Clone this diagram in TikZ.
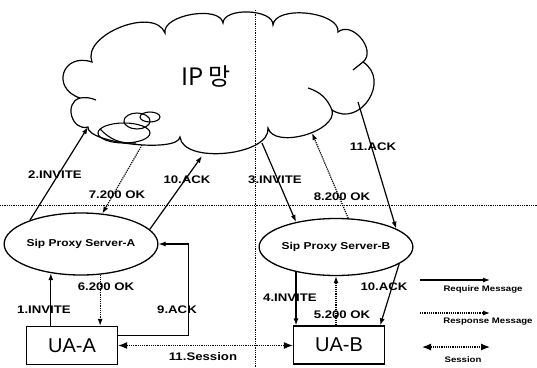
\documentclass[tikz,border=0pt]{standalone}
\usepackage{fontspec}
\setmainfont{Liberation Sans}
\newfontfamily\lblfont[FakeStretch=1.2]{Liberation Sans}
\newfontfamily\krfont{Noto Sans CJK KR}
\usepackage{tikz}
\usetikzlibrary{shapes.geometric,positioning}
\usetikzlibrary{arrows,arrows.meta}

\begin{document}
\begin{tikzpicture}[x=1pt,y=-1pt]
\tikzstyle{server}=[ellipse, draw=black, line width=1.3pt, minimum width=142pt, minimum height=62pt, inner sep=0pt, font=\lblfont\bfseries\fontsize{10}{12}\selectfont]
\tikzstyle{ua}=[rectangle, draw=black, line width=1.3pt, minimum width=91pt, minimum height=38pt, font=\fontsize{20}{24}\selectfont]
\tikzstyle{req}=[-{Latex[length=7pt,width=5pt]}, line width=1.2pt]
\tikzstyle{resp}=[-{Latex[length=7pt,width=5pt]}, line width=1.2pt, densely dotted]
\tikzstyle{session}=[{Latex[length=9pt,width=7pt]}-{Latex[length=9pt,width=7pt]}, line width=1.2pt, densely dotted]
\tikzstyle{lbl}=[font=\lblfont\bfseries\fontsize{11}{13}\selectfont, inner sep=0pt]
\tikzstyle{key}=[font=\lblfont\bfseries\fontsize{8}{10}\selectfont, inner sep=0pt]
\tikzstyle{grid}=[densely dotted, line width=0.8pt]
\tikzstyle{puff}=[bend left=90]
\useasboundingbox (0,0) rectangle (537,367);

\draw[line width=1.2pt] (80,98) to[puff, looseness=2.1] (92,62)
  to[puff, looseness=0.95] (165,33) to[puff, looseness=0.8] (223,23)
  to[puff, looseness=0.82] (273,25) to[puff, looseness=0.8] (338,32)
  to[puff, looseness=1.2] (363,62) to[puff, looseness=1.5] (332,110)
  to[puff, looseness=0.86] (268,128) to[puff, looseness=0.8] (180,137)
  to[puff, looseness=0.45] (88,127) to[puff, looseness=1.45] (80,98);
\draw[line width=1.2pt] (80,98) to[bend left=15] (96,100);
\draw[line width=1.2pt] (332,110) to[bend right=25] (308,88);
\draw[line width=1.2pt] (363,62) -- (353,70);
\draw[line width=1.1pt] (124,133) ellipse [x radius=26pt, y radius=10pt];
\draw[line width=1.1pt] (100,129) to[bend right=25] (136,143);
\draw[line width=1.1pt] (137,121) ellipse [x radius=13pt, y radius=8pt];
\draw[line width=1.1pt] (150,117) ellipse [x radius=10pt, y radius=5pt];
\node[font=\krfont\fontsize{24}{28}\selectfont] (net) at (206,76) {IP 망};

\draw[grid] (0,205) -- (537,205);
\draw[grid] (255,10) -- (255,367);

\node[server] (srvA) at (81,244) {Sip Proxy Server-A};
\node[server, minimum height=57pt] (srvB) at (336,247) {Sip Proxy Server-B};
\node[ua] (uaA) at (72,345.5) {UA-A};
\node[ua] (uaB) at (339,345) {UA-B};

\coordinate (c2) at (88,127);
\coordinate (c7) at (142,145);
\coordinate (c10) at (202,156);
\coordinate (c3) at (262,143);
\coordinate (c8) at (312,133);
\coordinate (c11) at (358,102);

\path (srvA.155) edge[req] (c2);
\path (c7) edge[resp] (srvA.55);
\path (srvA.12) edge[req] (c10);
\path (c3) edge[req] (srvB.148);
\path (srvB.67) edge[resp] (c8);
\path (c11) edge[req] (srvB.17);

\path (srvA.224 |- uaA.north) edge[req] (srvA.224);
\path (srvA.302) edge[resp] (srvA.302 |- uaA.north);
\draw[req] ([yshift=10pt]uaA.east) -| ([xshift=30pt]srvA.east) -- (srvA.east);
\path (srvB.212) edge[req] (srvB.212 |- uaB.north);
\path (srvB.south |- uaB.north) edge[resp] (srvB.south);
\path (srvB.345) edge[req] ([xshift=-5pt]uaB.north east);
\path (uaA.east) edge[session] (uaA.east -| uaB.west);

\node[lbl] at (55,175) {2.INVITE};
\node[lbl] at (117,195) {7.200 OK};
\node[lbl] at (187,180) {10.ACK};
\node[lbl] at (275,180) {3.INVITE};
\node[lbl] at (342,197) {8.200 OK};
\node[lbl] at (373,147) {11.ACK};
\node[lbl] at (106,287) {6.200 OK};
\node[lbl] at (44,310) {1.INVITE};
\node[lbl] at (177,310) {9.ACK};
\node[lbl] at (203,357) {11.Session};
\node[lbl] at (290,298) {4.INVITE};
\node[lbl] at (342,315) {5.200 OK};
\node[lbl] at (384,287) {10.ACK};

\coordinate (k1a) at (420,280);
\coordinate (k1b) at (490,280);
\coordinate (k2a) at (420,313);
\coordinate (k2b) at (490,313);
\coordinate (k3a) at (422,347);
\coordinate (k3b) at (490,347);
\path (k1a) edge[req] (k1b);
\path (k2a) edge[resp] (k2b);
\path (k3a) edge[session] (k3b);
\node[key] at (483,289) {Require Message};
\node[key] at (488,322) {Response Message};
\node[key] at (463,360) {Session};
\end{tikzpicture}
\end{document}
